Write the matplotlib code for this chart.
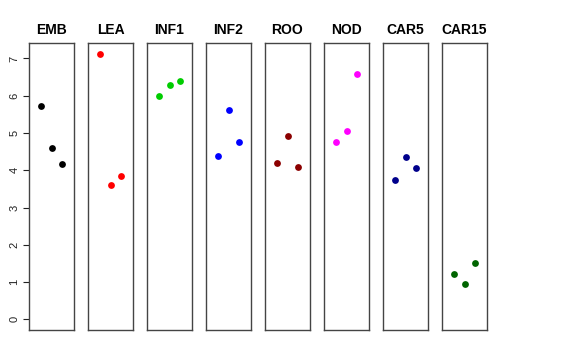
import matplotlib
matplotlib.use("Agg")
import matplotlib.pyplot as plt

groups = ["EMB", "LEA", "INF1", "INF2", "ROO", "NOD", "CAR5", "CAR15"]
colors = ["black", "red", "#00CD00", "blue", "#8B0000", "magenta", "#00008B", "#006400"]
values = {
    "EMB":   [5.73, 4.59, 4.17],
    "LEA":   [7.13, 3.60, 3.84],
    "INF1":  [6.00, 6.28, 6.39],
    "INF2":  [4.39, 5.61, 4.77],
    "ROO":   [4.20, 4.93, 4.09],
    "NOD":   [4.77, 5.05, 6.59],
    "CAR5":  [3.73, 4.36, 4.05],
    "CAR15": [1.21, 0.95, 1.50],
}
yticks = [0, 1, 2, 3, 4, 5, 6, 7]

plt.rcParams['font.family'] = ['Liberation Sans', 'DejaVu Sans']
fig = plt.figure(figsize=(5.76, 3.6), dpi=100)

W, H = 576, 360
left0, pw, step = 29, 45, 59
top, bottom = 43, 330
ymax = max(max(v) for v in values.values())
for i, g in enumerate(groups):
    x0 = left0 + i * step
    ax = fig.add_axes([x0 / W, 1 - bottom / H, pw / W, (bottom - top) / H])
    ax.scatter([1, 2, 3], values[g], s=24, color=colors[i], zorder=3, linewidths=0)
    ax.set_xlim(-0.16, 4.16)
    r = ymax
    ax.set_ylim(0 - 0.04 * r, ymax + 0.04 * r)
    ax.set_xticks([])
    for s in ax.spines.values():
        s.set_color('#444444')
        s.set_linewidth(1.0)
    ax.set_title(g, fontsize=10, fontweight='bold', pad=6.5)
    if i == 0:
        ax.set_yticks(yticks)
        ax.set_yticklabels([str(t) for t in yticks], rotation=90, va='center', fontsize=8)
        ax.tick_params(axis='y', length=4, width=0.8, pad=3, colors='#222222')
    else:
        ax.set_yticks([])

fig.savefig("out.png", dpi=100)
